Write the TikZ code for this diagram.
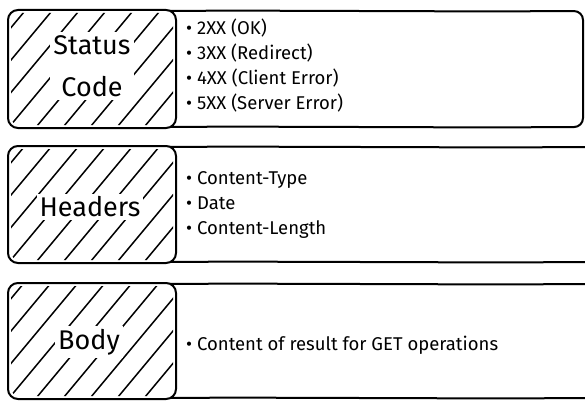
\documentclass[tikz,border=0pt]{standalone}
\usepackage{fontspec}
\setmainfont{Fira Sans}
\begin{document}
\begin{tikzpicture}[x=1pt,y=-1pt,
  frame/.style={draw=black, line width=2pt, line join=round, line cap=round},
  hatch/.style={draw=black, line width=1.5pt, line cap=round},
  title/.style={fill=white, inner sep=3pt, align=center,
    font={\fontsize{27}{42}\selectfont}},
  items/.style={anchor=west, align=left, inner sep=0pt,
    font={\fontsize{18.5}{25}\selectfont}}]
\useasboundingbox (0,0) rectangle (585,401);
\clip (0,0) rectangle (585,401);

% one row: left hatched tab, right content panel
% #1 top, #2 bottom, #3 right end of the panel
\newcommand{\rowframe}[3]{%
  \draw[frame, rounded corners=9pt] (150,#1+1)
    .. controls (300,#1) and (420,#1+2) .. (#3,#1+1)
    -- (#3,#2-1)
    .. controls (420,#2) and (300,#2-2) .. (150,#2-1);
  \fill[white, rounded corners=10pt] (8,#1) rectangle (176,#2);
  \begin{scope}
    \clip[rounded corners=8pt] (11,#1+3) rectangle (173,#2-3);
    \foreach \k in {-6,...,8}
      \draw[hatch] (\k*27, #2+10) -- ++(115,-138);
  \end{scope}
  \draw[frame, rounded corners=10pt] (8,#1) rectangle (176,#2);
}

\rowframe{10}{128}{583}
\rowframe{146}{263}{600}
\rowframe{283}{399}{600}

\node[title] (status) at (92,66) {Status\\Code};
\node[items] (codes) at (186,66) {\textbullet\ 2XX (OK)\\
  \textbullet\ 3XX (Redirect)\\
  \textbullet\ 4XX (Client Error)\\
  \textbullet\ 5XX (Server Error)};

\node[title] (headers) at (90,207) {Headers};
\node[items] (hdrs) at (186,205) {\textbullet\ Content-Type\\
  \textbullet\ Date\\
  \textbullet\ Content-Length};

\node[title] (body) at (89,342) {Body};
\node[items] (bodyitems) at (186,345) {\textbullet\ Content of result for GET operations};
\end{tikzpicture}
\end{document}
